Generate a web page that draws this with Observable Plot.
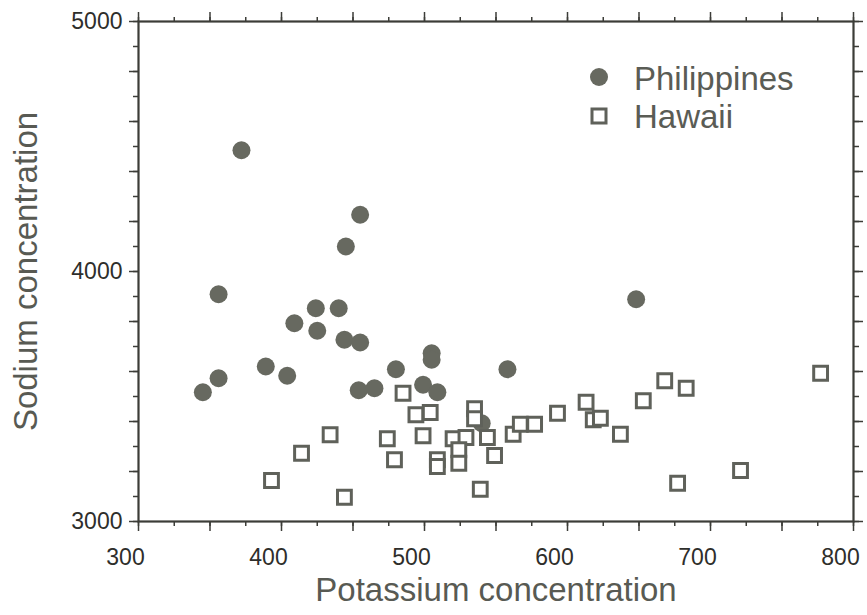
<!DOCTYPE html>
<html>
<head>
<meta charset="utf-8">
<script src="https://cdn.jsdelivr.net/npm/d3@7"></script>
<script src="https://cdn.jsdelivr.net/npm/@observablehq/plot@0.6"></script>
<style>
  html, body { margin: 0; padding: 0; background: #fff; }
  #wrap { position: relative; width: 867px; height: 615px; }
  #legend { position: absolute; left: 0; top: 0; pointer-events: none; }
</style>
</head>
<body>
<div id="wrap"></div>
<script>
// Philippines (filled circles)
const philippinesPotassium = [372, 455, 445, 356, 424, 440, 409, 425, 444, 455, 505, 505, 389, 356, 345, 404, 480, 454, 465, 499, 509, 540, 558, 648];
const philippinesSodium    = [4485, 4227, 4100, 3909, 3853, 3853, 3793, 3763, 3727, 3716, 3673, 3647, 3620, 3573, 3517, 3583, 3609, 3525, 3533, 3547, 3517, 3393, 3609, 3889];
// Hawaii (open squares)
const hawaiiPotassium = [485, 494, 504, 535, 535, 434, 474, 499, 520, 529, 544, 524, 524, 509, 509, 549, 414, 479, 393, 444, 539, 562, 567, 577, 593, 613, 618, 623, 637, 653, 668, 683, 677, 721, 777];
const hawaiiSodium    = [3513, 3427, 3436, 3451, 3411, 3347, 3331, 3343, 3331, 3336, 3336, 3287, 3233, 3247, 3220, 3264, 3273, 3247, 3164, 3097, 3129, 3349, 3389, 3389, 3433, 3477, 3407, 3413, 3349, 3483, 3563, 3533, 3153, 3204, 3593];

const seriesNames = ["Philippines", "Hawaii"];
const xTickLabels = [300, 400, 500, 600, 700, 800];
const yTickLabels = [3000, 4000, 5000];
const xMinorTicks = d3.range(300, 801, 25);
const xMajorTicks = d3.range(300, 801, 50);
const yMinorTicks = d3.range(3000, 5001, 100);
const yMajorTicks = d3.range(3000, 5001, 200);

const philippines = philippinesPotassium.map((k, i) => ({k, na: philippinesSodium[i]}));
const hawaii = hawaiiPotassium.map((k, i) => ({k, na: hawaiiSodium[i]}));

const ink = "#3c3d38";
const markColor = "#676960";
const font = "'Liberation Sans', Arial, Helvetica, sans-serif";

const tickAxis = (fn, anchor, ticks, size) => fn({anchor, ticks, tickSize: size, text: null, label: null, stroke: ink, strokeWidth: 1.5});

const chart = Plot.plot({
  width: 867,
  height: 615,
  marginLeft: 138,
  marginRight: 14,
  marginTop: 21,
  marginBottom: 94,
  style: {fontFamily: font, background: "#fff"},
  x: {domain: [300, 800]},
  y: {domain: [3000, 5000]},
  marks: [
    tickAxis(Plot.axisX, "bottom", xMinorTicks, 5),
    tickAxis(Plot.axisX, "bottom", xMajorTicks, 10),
    tickAxis(Plot.axisX, "top", xMinorTicks, 5),
    tickAxis(Plot.axisX, "top", xMajorTicks, 10),
    tickAxis(Plot.axisY, "left", yMinorTicks, 5),
    tickAxis(Plot.axisY, "left", yMajorTicks, 9),
    tickAxis(Plot.axisY, "right", yMinorTicks, 5),
    tickAxis(Plot.axisY, "right", yMajorTicks, 9),
    Plot.axisX({anchor: "bottom", ticks: xTickLabels, tickFormat: d => String(d), tickSize: 0, tickPadding: 27, fontSize: 23, dx: -13, color: "#2e2e2b",
      label: "Potassium concentration", labelAnchor: "center", labelArrow: "none", labelOffset: 79}),
    Plot.axisY({anchor: "left", ticks: yTickLabels, tickFormat: d => String(d), tickSize: 0, tickPadding: 16, fontSize: 23, color: "#2e2e2b",
      label: "Sodium concentration", labelAnchor: "center", labelArrow: "none", labelOffset: 125}),
    Plot.frame({stroke: ink, strokeWidth: 2.2}),
    Plot.dot(philippines, {x: "k", y: "na", r: 9, fill: markColor, stroke: "none", symbol: "circle"}),
    Plot.dot(hawaii, {x: "k", y: "na", r: 7.8, fill: "#fff", stroke: "#5f615a", strokeWidth: 3, symbol: "square"})
  ]
});

// enlarge axis titles and colour them
chart.querySelectorAll("[aria-label='x-axis label'] text, [aria-label='y-axis label'] text").forEach(t => {
  t.setAttribute("font-size", 33);
  t.setAttribute("fill", "#585a53");
});

const wrap = document.getElementById("wrap");
wrap.appendChild(chart);

// legend
const ns = "http://www.w3.org/2000/svg";
const leg = document.createElementNS(ns, "svg");
leg.setAttribute("id", "legend");
leg.setAttribute("width", 867);
leg.setAttribute("height", 615);
const legendRows = [
  {name: seriesNames[0], cy: 77, baseline: 90},
  {name: seriesNames[1], cy: 116, baseline: 128}
];
legendRows.forEach((row, i) => {
  if (i === 0) {
    const c = document.createElementNS(ns, "circle");
    c.setAttribute("cx", 599); c.setAttribute("cy", row.cy); c.setAttribute("r", 9);
    c.setAttribute("fill", markColor);
    leg.appendChild(c);
  } else {
    const r = document.createElementNS(ns, "rect");
    r.setAttribute("x", 592); r.setAttribute("y", row.cy - 7); r.setAttribute("width", 14); r.setAttribute("height", 14);
    r.setAttribute("fill", "#fff"); r.setAttribute("stroke", "#5f615a"); r.setAttribute("stroke-width", 3);
    leg.appendChild(r);
  }
  const t = document.createElementNS(ns, "text");
  t.setAttribute("x", 634); t.setAttribute("y", row.baseline);
  t.setAttribute("font-family", font); t.setAttribute("font-size", 33);
  t.setAttribute("fill", "#5a5c55");
  t.textContent = row.name;
  leg.appendChild(t);
});
wrap.appendChild(leg);
</script>
</body>
</html>
